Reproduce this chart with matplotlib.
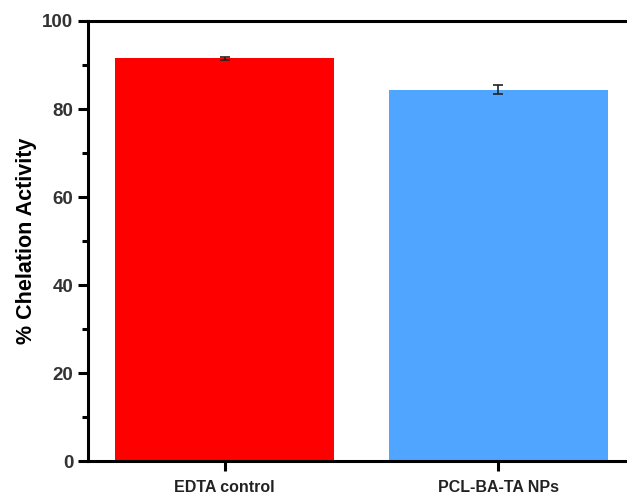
import matplotlib.pyplot as plt
from matplotlib.ticker import MultipleLocator

# Data
groups = ['EDTA control', 'PCL-BA-TA NPs']
chelation = [91.5, 84.4]
errors = [0.3, 1.05]
colors = ['#ff0000', '#4fa5ff']

plt.rcParams['font.family'] = ['Liberation Sans', 'DejaVu Sans']
plt.rcParams['font.weight'] = 'bold'

fig = plt.figure(figsize=(6.27, 4.96), dpi=100)
ax = fig.add_axes([88 / 627, (496 - 461) / 496, 547 / 627, 440 / 496])

x = range(len(groups))
ax.bar(x, chelation, width=0.8, color=colors,
       yerr=errors, capsize=3.5, error_kw=dict(elinewidth=1.2, capthick=1.2, ecolor='#222222'))

ax.set_xlim(-0.5, 1.5)
ax.set_ylim(0, 100)
ax.yaxis.set_major_locator(MultipleLocator(20))
ax.yaxis.set_minor_locator(MultipleLocator(10))
ax.set_xticks(list(x))
ax.set_xticklabels(groups, fontsize=11.5, fontweight='bold', color='#222222')

for lab in ax.get_yticklabels():
    lab.set_fontsize(13.5)
    lab.set_fontweight('bold')
    lab.set_color('#333333')

ax.set_ylabel('% Chelation Activity', fontsize=15.5, fontweight='bold', labelpad=4)

for s in ax.spines.values():
    s.set_linewidth(2.2)
ax.tick_params(axis='both', which='major', direction='out', length=7, width=2.2)
ax.tick_params(axis='y', which='minor', direction='out', length=4, width=2.2)
ax.tick_params(axis='x', pad=6.5)

plt.savefig('out.png', dpi=100)
